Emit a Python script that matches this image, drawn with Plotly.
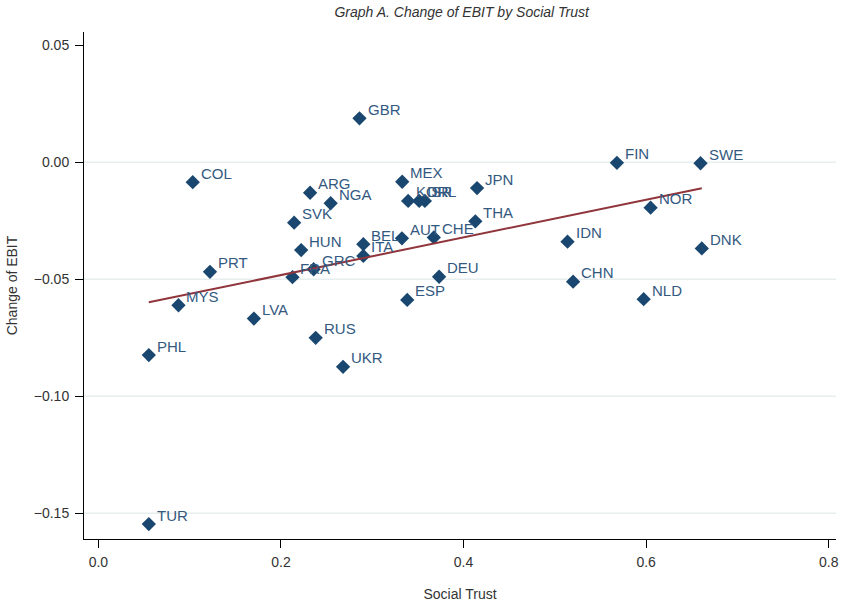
import numpy as np
import plotly.graph_objects as go

countries = ["GBR","COL","PRT","MYS","PHL","TUR","FIN","SWE","NOR","IDN","DNK","CHN","NLD",
             "LVA","RUS","UKR","ESP","ARG","NGA","SVK","MEX","KOR","ISR","IRL","JPN","THA",
             "HUN","BEL","ITA","AUT","CHE","DEU","GRC","FRA"]
social_trust = [0.286,0.1033,0.1222,0.0877,0.0552,0.0552,0.568,0.6596,0.6049,0.5139,0.661,0.520,0.5973,
                0.1703,0.238,0.268,0.3383,0.2319,0.2544,0.2144,0.3328,0.3393,0.3514,0.3576,0.4148,0.4129,
                0.2221,0.2902,0.2902,0.3325,0.3674,0.3732,0.2358,0.2126]
change_ebit = [0.0188,-0.0085,-0.0468,-0.0611,-0.0824,-0.1546,-0.0002,-0.0004,-0.0194,-0.0339,-0.0368,-0.0510,-0.0585,
               -0.0668,-0.0750,-0.0874,-0.0588,-0.0130,-0.0175,-0.0258,-0.0083,-0.0165,-0.0165,-0.0165,-0.0110,-0.0252,
               -0.0375,-0.0350,-0.0400,-0.0325,-0.0321,-0.0489,-0.0457,-0.0491]

x_ticks = [0.0, 0.2, 0.4, 0.6, 0.8]
y_ticks = [0.05, 0.0, -0.05, -0.10, -0.15]
grid_vals = [0.0, -0.05, -0.10, -0.15]

MARKER = "#1a476f"
LABEL = "#33597f"
FIT = "#90353b"
FONT = "Liberation Sans, Arial, sans-serif"

xs = np.array(social_trust)
ys = np.array(change_ebit)
slope, intercept = np.polyfit(xs, ys, 1)
fx = np.array([xs.min(), xs.max()])
fy = intercept + slope * fx

fig = go.Figure()
fig.add_trace(go.Scatter(x=social_trust, y=change_ebit, mode="markers",
                         marker=dict(symbol="diamond", size=11, color=MARKER),
                         showlegend=False, hoverinfo="text", text=countries))
fig.add_trace(go.Scatter(x=fx, y=fy, mode="lines", line=dict(color=FIT, width=2),
                         showlegend=False))

for c, xv, yv in zip(countries, social_trust, change_ebit):
    fig.add_annotation(x=xv, y=yv, text=c, showarrow=False, xanchor="left", yanchor="middle",
                       xshift=6, yshift=9, font=dict(family=FONT, size=15, color=LABEL))

for g in grid_vals:
    fig.add_shape(type="line", xref="paper", x0=0, x1=1, yref="y", y0=g, y1=g,
                  line=dict(color="#e6eeee", width=1.5), layer="below")

fig.update_layout(
    width=841, height=604,
    margin=dict(l=84, r=2, t=32, b=65),
    paper_bgcolor="white", plot_bgcolor="white",
    font=dict(family=FONT, size=14, color="#333333"),
    title=dict(text="<i>Graph A. Change of EBIT by Social Trust</i>", x=0.549, xanchor="center",
               y=0.980, yanchor="middle", font=dict(family=FONT, size=14, color="#333333")),
)
fig.update_xaxes(range=[-0.0158, 0.808], tickvals=x_ticks, tickformat=".1f",
                 showgrid=False, zeroline=False, showline=True, linecolor="black", linewidth=1,
                 ticks="outside", ticklen=8, tickcolor="black", ticklabelstandoff=2,
                 ticklabeloverflow="allow",
                 title=dict(text="Social Trust", standoff=20, font=dict(size=14)))
fig.update_yaxes(range=[-0.161, 0.0557], tickvals=y_ticks, tickformat=".2f",
                 showgrid=False, zeroline=False, showline=True, linecolor="black", linewidth=1,
                 ticks="outside", ticklen=8, tickcolor="black", ticklabelstandoff=3,
                 title=dict(text="Change of EBIT", standoff=12, font=dict(size=14)))

fig.write_html("out.html", config={"displayModeBar": False},
               post_script="document.body.style.margin='0';")
